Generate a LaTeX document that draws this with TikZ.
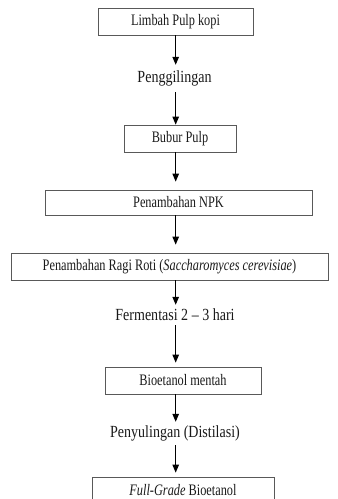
\documentclass[tikz,border=0pt]{standalone}
\usepackage{fontspec}
\setmainfont{Liberation Serif}
\newfontfamily\boxfont[FakeStretch=0.77,Ligatures=TeX]{Liberation Serif}
\newfontfamily\flowfont[FakeStretch=0.825,Ligatures=TeX]{Liberation Serif}
\usetikzlibrary{arrows.meta,calc}

\begin{document}
\begin{tikzpicture}
   [x=1pt,y=-1pt,
    stepbox/.style={draw=black!65, line width=0.7pt, inner sep=0pt, minimum height=27pt,
           text=black!90, font=\boxfont\fontsize{16}{18}\selectfont},
    steptext/.style={inner sep=0pt, text=black!90, font=\flowfont\fontsize{17}{19}\selectfont},
    flow/.style={-{Triangle[length=8pt,width=6.5pt]}, line width=1.1pt, black}]
\pgfmathsetmacro{\ax}{175.7}
\useasboundingbox (0,0) rectangle (338,499);
\clip (0,0) rectangle (338,499);
\coordinate (ax) at (\ax,0);

\node[stepbox, minimum width=155pt] (limbah) at (175.5,21.5) {Limbah Pulp kopi};
\node[steptext, minimum height=27pt] (giling) at (174.5,78.5) {Penggilingan};
\node[stepbox, minimum width=112pt] (bubur) at (180,138.5) {Bubur Pulp};
\node[stepbox, minimum width=267pt, minimum height=25pt] (npk) at (178.5,202.5) {Penambahan NPK};
\node[stepbox, minimum width=317pt] (ragi) at (169.5,266.5)
     {Penambahan Ragi Roti (\textit{Saccharomyces cerevisiae})};
\node[steptext, minimum height=20pt] (fermen) at (175,315) {Fermentasi 2 \textendash{} 3 hari};
\node[stepbox, minimum width=156pt] (mentah) at (183,380.5) {Bioetanol mentah};
\node[steptext, minimum height=23pt] (suling) at (175,433.5) {Penyulingan (Distilasi)};
\node[stepbox, minimum width=182pt, minimum height=30pt] (full) at (183,492) {};
\node[steptext, font=\boxfont\fontsize{16}{18}\selectfont] (fulltext) at (183,490) {\textit{Full-Grade} Bioetanol};

\draw[flow] (limbah.south -| ax) -- (giling.north -| ax);
\draw[flow] (giling.south -| ax) -- (bubur.north -| ax);
\draw[flow] (bubur.south -| ax) -- ($(npk.north -| ax)+(0,-8)$);
\draw[flow] (npk.south -| ax) -- ($(ragi.north -| ax)+(0,-8)$);
\draw[flow] (ragi.south -| ax) -- (fermen.north -| ax);
\draw[flow] (fermen.south -| ax) -- ($(mentah.north -| ax)+(0,-4)$);
\draw[flow] (mentah.south -| ax) -- (suling.north -| ax);
\draw[flow] (suling.south -| ax) -- ($(full.north -| ax)+(0,-4)$);
\end{tikzpicture}
\end{document}
